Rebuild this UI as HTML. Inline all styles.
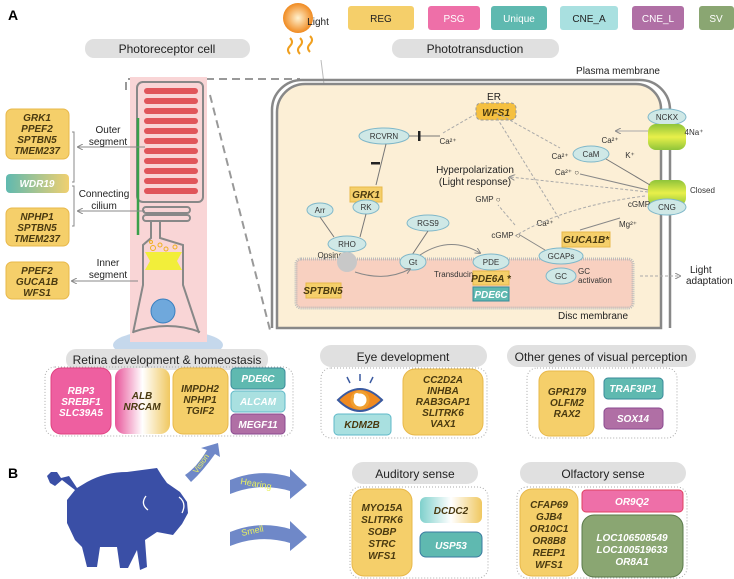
<!DOCTYPE html>
<html><head><meta charset="utf-8"><style>
html,body{margin:0;padding:0;background:#fff}
svg{display:block;font-family:"Liberation Sans",sans-serif}
.g{font-weight:bold;font-style:italic;font-size:10px;fill:#4a3a10;text-anchor:middle}
.w{font-weight:bold;font-style:italic;font-size:10px;fill:#fff;text-anchor:middle}
.s{font-size:8px;fill:#333;text-anchor:middle}
.l{font-size:10px;fill:#222;text-anchor:middle}
.p{font-size:12px;fill:#222;text-anchor:middle}
.e{fill:#cfe8e6;stroke:#7fb7c9;stroke-width:1}
.reg{fill:#f5cf6a;stroke:#e8b84a;stroke-width:1}
</style></head><body>
<svg width="734" height="579" viewBox="0 0 734 579">
<defs>
<linearGradient id="wdr" x1="0" x2="1"><stop offset="0" stop-color="#5fb9b0"/><stop offset="1" stop-color="#f0d070"/></linearGradient>
<linearGradient id="alb" x1="0" x2="1"><stop offset="0" stop-color="#e8559a"/><stop offset=".5" stop-color="#fff"/><stop offset="1" stop-color="#f0c860"/></linearGradient>
<linearGradient id="dcd" x1="0" x2="1"><stop offset="0" stop-color="#7fd0cc"/><stop offset=".5" stop-color="#fff"/><stop offset="1" stop-color="#f0c860"/></linearGradient>
<linearGradient id="ch" x1="0" y1="0" x2="0" y2="1"><stop offset="0" stop-color="#8fc43a"/><stop offset=".5" stop-color="#e8f04a"/><stop offset="1" stop-color="#8fc43a"/></linearGradient>
<radialGradient id="sun"><stop offset="0" stop-color="#fff2d0"/><stop offset="1" stop-color="#f08a20"/></radialGradient>
<marker id="ar" markerWidth="6" markerHeight="6" refX="5" refY="3" orient="auto"><path d="M0,0 L6,3 L0,6" fill="none" stroke="#888" stroke-width="1"/></marker>
</defs>
<text x="8" y="20" font-size="14" font-weight="bold">A</text>
<text x="8" y="478" font-size="14" font-weight="bold">B</text>
<!-- legend -->
<rect x="348" y="6" width="66" height="24" rx="3" fill="#f5cf6a"/><text x="381" y="22" class="l" fill="#333">REG</text>
<rect x="428" y="6" width="52" height="24" rx="3" fill="#ee6fa8"/><text x="454" y="22" class="l" style="fill:#fff">PSG</text>
<rect x="491" y="6" width="56" height="24" rx="3" fill="#5fb9b0"/><text x="519" y="22" class="l" style="fill:#fff">Unique</text>
<rect x="560" y="6" width="58" height="24" rx="3" fill="#a9e0e0"/><text x="589" y="22" class="l">CNE_A</text>
<rect x="632" y="6" width="52" height="24" rx="3" fill="#b06fa5"/><text x="658" y="22" class="l" style="fill:#fff">CNE_L</text>
<rect x="699" y="6" width="35" height="24" rx="3" fill="#8aa672"/><text x="716" y="22" class="l" style="fill:#fff">SV</text>
<!-- sun -->
<circle cx="298" cy="18" r="15" fill="url(#sun)"/>
<text x="318" y="25" class="l">Light</text>
<path d="M290,38 q4,4 0,8 q-4,4 0,8 M300,38 q4,4 0,8 q-4,4 0,8 M310,36 q4,4 0,8 q-4,4 0,8" fill="none" stroke="#f0a020" stroke-width="2"/>
<line x1="321" y1="60" x2="345" y2="253" stroke="#bbb" stroke-width="1" marker-end="url(#ar)"/>
<!-- pills -->
<rect x="85" y="39" width="165" height="19" rx="9" fill="#e0e0e0"/><text x="167" y="53" class="p">Photoreceptor cell</text>
<rect x="392" y="39" width="167" height="19" rx="9" fill="#e0e0e0"/><text x="475" y="53" class="p">Phototransduction</text>
<!-- dashed zoom -->
<path d="M126,90 L126,79 L300,79" fill="none" stroke="#999" stroke-width="2" stroke-dasharray="8,5"/>
<path d="M210,95 L270,330" fill="none" stroke="#999" stroke-width="2" stroke-dasharray="8,5"/>
<!-- photoreceptor -->
<ellipse cx="168" cy="345" rx="55" ry="15" fill="#c5d8ec"/>
<rect x="130" y="77" width="77" height="265" fill="#f9d5d6"/>
<path d="M142,82 h56 a5,5 0 0 1 5,5 v110 a5,5 0 0 1 -5,5 h-55 a6,6 0 0 1 -6,-6 v-108 a6,6 0 0 1 6,-6z" fill="none" stroke="#888" stroke-width="2"/>
<g fill="#e0555a">
<rect x="144" y="88" width="54" height="6" rx="3"/><rect x="144" y="98" width="54" height="6" rx="3"/><rect x="144" y="108" width="54" height="6" rx="3"/><rect x="144" y="118" width="54" height="6" rx="3"/><rect x="144" y="128" width="54" height="6" rx="3"/><rect x="144" y="138" width="54" height="6" rx="3"/><rect x="144" y="148" width="54" height="6" rx="3"/><rect x="144" y="158" width="54" height="6" rx="3"/><rect x="144" y="168" width="54" height="6" rx="3"/><rect x="144" y="178" width="54" height="6" rx="3"/><rect x="144" y="188" width="54" height="6" rx="3"/>
</g>
<rect x="143" y="207" width="47" height="6" rx="3" fill="none" stroke="#888" stroke-width="2"/>
<rect x="143" y="215" width="47" height="6" rx="3" fill="none" stroke="#888" stroke-width="2"/>
<path d="M151,222 V238 L143,245 V285 L133,333 M160,222 V238 L183,245 V285 L199,333" fill="none" stroke="#888" stroke-width="2"/>
<path d="M133,332 q35,-12 67,0" fill="none" stroke="#888" stroke-width="2"/>
<line x1="138" y1="118" x2="138" y2="235" stroke="#3aa04a" stroke-width="2.5"/>
<path d="M145,252 h37 l-5,9 l5,9 h-37 l5,-9z" fill="#f2ee3a"/>
<g fill="none" stroke="#f0b020"><circle cx="153" cy="248" r="2.5"/><circle cx="160" cy="245" r="2"/><circle cx="166" cy="249" r="2"/><circle cx="175" cy="247" r="2"/><circle cx="151" cy="242" r="1.5"/></g>
<circle cx="163" cy="311" r="12" fill="#6fa8dc" stroke="#3a80c0"/>
<!-- left boxes -->
<rect x="6" y="109" width="63" height="50" rx="6" class="reg"/>
<text x="37" y="121" class="g">GRK1</text><text x="37" y="132" class="g">PPEF2</text><text x="37" y="143" class="g">SPTBN5</text><text x="37" y="154" class="g">TMEM237</text>
<rect x="6" y="174" width="63" height="19" rx="4" fill="url(#wdr)"/><text x="37" y="187" class="w">WDR19</text>
<rect x="6" y="208" width="63" height="38" rx="6" class="reg"/>
<text x="37" y="220" class="g">NPHP1</text><text x="37" y="231" class="g">SPTBN5</text><text x="37" y="242" class="g">TMEM237</text>
<rect x="6" y="262" width="63" height="37" rx="6" class="reg"/>
<text x="37" y="274" class="g">PPEF2</text><text x="37" y="285" class="g">GUCA1B</text><text x="37" y="296" class="g">WFS1</text>
<path d="M72,132 h2 v50 h-2 M72,186 h2 v40 h-2" fill="none" stroke="#888"/>
<line x1="145" y1="147" x2="78" y2="147" stroke="#888" marker-end="url(#ar)"/>
<line x1="145" y1="211" x2="78" y2="211" stroke="#888" marker-end="url(#ar)"/>
<line x1="138" y1="281" x2="72" y2="281" stroke="#888" marker-end="url(#ar)"/>
<text x="108" y="133" class="l">Outer</text><text x="108" y="145" class="l">segment</text>
<text x="104" y="197" class="l">Connecting</text><text x="104" y="209" class="l">cilium</text>
<text x="108" y="266" class="l">Inner</text><text x="108" y="278" class="l">segment</text>
<!-- big cell -->
<path d="M272,328 V110 a30,30 0 0 1 30,-30 H640 a30,30 0 0 1 30,30 V328" fill="none" stroke="#888" stroke-width="2.5"/>
<path d="M277,328 V112 a28,28 0 0 1 28,-28 H636 a25,25 0 0 1 25,25 V328Z" fill="#fcefd6" stroke="#888" stroke-width="2.5"/>
<rect x="296" y="259" width="337" height="49" rx="5" fill="#f8d0c0" stroke="#bbb" stroke-width="3" stroke-dasharray="1,1"/>
<text x="618" y="74" class="l">Plasma membrane</text>
<text x="593" y="319" class="l">Disc membrane</text>
<text x="690" y="273" class="l" style="text-anchor:start">Light</text>
<text x="686" y="284" class="l" style="text-anchor:start">adaptation</text>
<line x1="640" y1="276" x2="680" y2="276" stroke="#aaa" stroke-dasharray="3,2" marker-end="url(#ar)"/>
<!-- channels -->
<ellipse cx="667" cy="117" rx="19" ry="8" class="e"/><text x="667" y="120" class="s">NCKX</text>
<rect x="648" y="124" width="38" height="26" rx="8" fill="url(#ch)"/>
<rect x="648" y="180" width="38" height="26" rx="8" fill="url(#ch)"/>
<ellipse cx="667" cy="207" rx="19" ry="8" class="e"/><text x="667" y="210" class="s">CNG</text>
<text x="690" y="193" class="s" style="text-anchor:start">Closed</text>
<text x="694" y="135" class="s">4Na⁺</text>
<line x1="648" y1="131" x2="616" y2="131" stroke="#aaa" marker-end="url(#ar)"/>
<text x="610" y="143" class="s">Ca²⁺</text><text x="630" y="158" class="s">K⁺</text>
<!-- nodes -->
<rect x="476" y="103" width="40" height="17" rx="5" fill="#f5c040" stroke="#999" stroke-dasharray="3,2"/><text x="496" y="116" class="g">WFS1</text>
<text x="494" y="100" class="l">ER</text>
<ellipse cx="384" cy="136" rx="25" ry="8" class="e"/><text x="384" y="139" class="s">RCVRN</text>
<line x1="409" y1="136" x2="440" y2="136" stroke="#777"/><rect x="418" y="131" width="2.5" height="10" fill="#222"/>
<text x="448" y="144" class="s">Ca²⁺</text>
<line x1="443" y1="133" x2="474" y2="115" stroke="#aaa" stroke-dasharray="3,2"/>
<line x1="386" y1="144" x2="376" y2="185" stroke="#777"/><rect x="371" y="162" width="9" height="2.5" fill="#222"/>
<rect x="350" y="187" width="32" height="15" class="reg"/><text x="366" y="198" class="g">GRK1</text>
<ellipse cx="366" cy="207" rx="13" ry="7" class="e"/><text x="366" y="210" class="s">RK</text>
<ellipse cx="320" cy="210" rx="13" ry="7" class="e"/><text x="320" y="213" class="s">Arr</text>
<ellipse cx="347" cy="244" rx="19" ry="8" class="e"/><text x="347" y="247" class="s">RHO</text>
<text x="330" y="258" class="s">Opsins</text>
<circle cx="347" cy="262" r="10" fill="#c8c8c8"/>
<rect x="306" y="283" width="35" height="15" class="reg"/><text x="323" y="294" class="g">SPTBN5</text>
<line x1="320" y1="217" x2="334" y2="237" stroke="#777"/><line x1="366" y1="214" x2="360" y2="237" stroke="#777"/>
<ellipse cx="428" cy="223" rx="21" ry="8" class="e"/><text x="428" y="226" class="s">RGS9</text>
<line x1="428" y1="231" x2="412" y2="255" stroke="#777"/>
<ellipse cx="413" cy="262" rx="13" ry="8" class="e"/><text x="413" y="265" class="s">Gt</text>
<text x="434" y="277" class="s" style="text-anchor:start">Transducin</text>
<ellipse cx="491" cy="262" rx="18" ry="8" class="e"/><text x="491" y="265" class="s">PDE</text>
<path d="M420,255 q30,-20 60,-2" fill="none" stroke="#888" marker-end="url(#ar)"/>
<path d="M355,272 q30,10 55,-3" fill="none" stroke="#888" marker-end="url(#ar)"/>
<rect x="473" y="271" width="36" height="14" class="reg"/><text x="491" y="282" class="g">PDE6A *</text>
<rect x="473" y="287" width="36" height="14" fill="#5fb9b0" stroke="#3a8a9a"/><text x="491" y="298" class="w">PDE6C</text>
<ellipse cx="561" cy="256" rx="22" ry="8" class="e"/><text x="561" y="259" class="s">GCAPs</text>
<ellipse cx="561" cy="276" rx="15" ry="8" class="e"/><text x="561" y="279" class="s">GC</text>
<text x="578" y="274" class="s" style="text-anchor:start">GC</text><text x="578" y="283" class="s" style="text-anchor:start">activation</text>
<rect x="562" y="232" width="48" height="15" class="reg"/><text x="586" y="243" class="g">GUCA1B*</text>
<ellipse cx="591" cy="154" rx="18" ry="8" class="e"/><text x="591" y="157" class="s">CaM</text>
<text x="475" y="173" class="l">Hyperpolarization</text><text x="475" y="185" class="l">(Light response)</text>
<text x="488" y="202" class="s">GMP ○</text><text x="506" y="238" class="s">cGMP ○</text>
<text x="545" y="226" class="s">Ca²⁺</text><text x="628" y="227" class="s">Mg²⁺</text>
<text x="639" y="207" class="s">cGMP</text><text x="560" y="159" class="s">Ca²⁺</text><text x="567" y="175" class="s">Ca²⁺ ○</text>
<line x1="606" y1="159" x2="650" y2="185" stroke="#777"/>
<line x1="648" y1="190" x2="580" y2="174" stroke="#888"/>
<line x1="648" y1="192" x2="510" y2="177" stroke="#aaa" stroke-dasharray="3,2" marker-end="url(#ar)"/>
<path d="M645,196 q-80,10 -130,40" fill="none" stroke="#aaa" stroke-dasharray="3,2"/>
<line x1="497" y1="113" x2="560" y2="148" stroke="#aaa" stroke-dasharray="3,2"/>
<line x1="497" y1="118" x2="560" y2="220" stroke="#aaa" stroke-dasharray="3,2"/>
<line x1="545" y1="250" x2="520" y2="235" stroke="#888"/>
<line x1="515" y1="225" x2="498" y2="205" stroke="#aaa" stroke-dasharray="3,2"/>
<line x1="580" y1="230" x2="620" y2="218" stroke="#888"/>
<!-- lower row A -->
<rect x="66" y="349" width="202" height="21" rx="10" fill="#e0e0e0"/><text x="167" y="364" class="p">Retina development &amp; homeostasis</text>
<rect x="45" y="367" width="248" height="69" rx="10" fill="none" stroke="#aaa" stroke-dasharray="1,2"/>
<rect x="51" y="368" width="60" height="66" rx="10" fill="#ee5fa0" stroke="#e04080"/>
<text x="81" y="394" class="w">RBP3</text><text x="81" y="405" class="w">SREBF1</text><text x="81" y="416" class="w">SLC39A5</text>
<rect x="115" y="368" width="55" height="66" rx="10" fill="url(#alb)"/>
<text x="142" y="399" class="g">ALB</text><text x="142" y="410" class="g">NRCAM</text>
<rect x="173" y="368" width="55" height="66" rx="10" class="reg"/>
<text x="200" y="392" class="g">IMPDH2</text><text x="200" y="403" class="g">NPHP1</text><text x="200" y="414" class="g">TGIF2</text>
<rect x="231" y="368" width="54" height="21" rx="4" fill="#5fb9b0" stroke="#3a8a9a"/><text x="258" y="382" class="w">PDE6C</text>
<rect x="231" y="391" width="54" height="21" rx="4" fill="#a9e0e0" stroke="#5fb9c9"/><text x="258" y="405" class="w">ALCAM</text>
<rect x="231" y="414" width="54" height="20" rx="4" fill="#b06fa5" stroke="#8a4a90"/><text x="258" y="428" class="w">MEGF11</text>
<rect x="320" y="345" width="167" height="22" rx="11" fill="#e0e0e0"/><text x="403" y="361" class="p">Eye development</text>
<rect x="321" y="368" width="166" height="70" rx="10" fill="none" stroke="#aaa" stroke-dasharray="1,2"/>
<path d="M338,400 q22,-22 44,0 q-22,22 -44,0z" fill="#f08a20" stroke="#3a5aa0" stroke-width="2"/>
<circle cx="360" cy="400" r="8" fill="#fff" stroke="#f0a030" stroke-width="3"/><circle cx="357" cy="396" r="3" fill="#fff"/>
<path d="M350,383 l-3,-6 M360,381 v-7 M370,383 l3,-6" stroke="#3a5aa0" stroke-width="1.5"/>
<rect x="334" y="414" width="57" height="21" rx="4" fill="#a9e0e0" stroke="#5fb9c9"/><text x="362" y="428" class="g">KDM2B</text>
<rect x="403" y="369" width="80" height="66" rx="12" class="reg"/>
<text x="443" y="383" class="g">CC2D2A</text><text x="443" y="394" class="g">INHBA</text><text x="443" y="405" class="g">RAB3GAP1</text><text x="443" y="416" class="g">SLITRK6</text><text x="443" y="427" class="g">VAX1</text>
<rect x="507" y="345" width="189" height="22" rx="11" fill="#e0e0e0"/><text x="601" y="361" class="p">Other genes of visual perception</text>
<rect x="527" y="368" width="150" height="70" rx="10" fill="none" stroke="#aaa" stroke-dasharray="1,2"/>
<rect x="539" y="371" width="55" height="65" rx="10" class="reg"/>
<text x="567" y="395" class="g">GPR179</text><text x="567" y="406" class="g">OLFM2</text><text x="567" y="417" class="g">RAX2</text>
<rect x="604" y="378" width="59" height="21" rx="4" fill="#5fb9b0" stroke="#3a8a9a"/><text x="633" y="392" class="w">TRAF3IP1</text>
<rect x="604" y="408" width="59" height="21" rx="4" fill="#b06fa5" stroke="#8a4a90"/><text x="633" y="422" class="w">SOX14</text>
<!-- B pig -->
<path d="M47,476 l4,-4 l6,0 l4,6 l8,-2 l8,12 L87,482 Q105,472 127,472 L157,468 L162,476 L167,483 L180,492 L187,502 L188,513 L182,524 L173,535 L157,532 L145,540 L147,567 L140,570 L137,550 L128,568 L120,568 L117,547 L100,547 L97,567 L87,567 L82,547 L75,540 L67,523 L67,500 L75,490 L62,480 L55,486 L50,483z" fill="#3a4fa6"/>
<path d="M179,497 q8,6 3,16 M146,496 q-6,8 2,14" fill="none" stroke="#fff" stroke-width="1.3"/>
<!-- B arrows -->
<path d="M185,475 q12,-8 22,-25 l-6,-2 l17,-5 l2,14 l-5,-3 q-12,17 -24,28z" fill="#6f88c8"/>
<text x="197" y="474" font-size="8" fill="#e8f060" transform="rotate(-55 197 474)">Vision</text>
<path d="M165,490 q30,-12 60,-3 l0,-8 l17,16 l-17,14 l0,-8 q-30,-9 -60,3z" fill="#6f88c8" transform="translate(65,-10)"/>
<text x="240" y="484" font-size="9" fill="#e8f060" transform="rotate(10 240 484)">Hearing</text>
<path d="M165,490 q30,-12 60,-3 l0,-8 l17,16 l-17,14 l0,-8 q-30,-9 -60,3z" fill="#6f88c8" transform="translate(65,42)"/>
<text x="242" y="536" font-size="9" fill="#e8f060" transform="rotate(-12 242 536)">Smell</text>
<rect x="352" y="462" width="126" height="22" rx="11" fill="#e0e0e0"/><text x="415" y="478" class="p">Auditory sense</text>
<rect x="350" y="487" width="138" height="91" rx="10" fill="none" stroke="#aaa" stroke-dasharray="1,2"/>
<rect x="352" y="489" width="60" height="87" rx="12" class="reg"/>
<text x="382" y="511" class="g">MYO15A</text><text x="382" y="523" class="g">SLITRK6</text><text x="382" y="535" class="g">SOBP</text><text x="382" y="547" class="g">STRC</text><text x="382" y="559" class="g">WFS1</text>
<rect x="420" y="497" width="62" height="26" rx="6" fill="url(#dcd)"/><text x="451" y="514" class="g">DCDC2</text>
<rect x="420" y="532" width="62" height="25" rx="6" fill="#5fb9b0" stroke="#3a7aa0"/><text x="451" y="549" class="w">USP53</text>
<rect x="520" y="462" width="166" height="22" rx="11" fill="#e0e0e0"/><text x="603" y="478" class="p">Olfactory sense</text>
<rect x="517" y="487" width="170" height="91" rx="10" fill="none" stroke="#aaa" stroke-dasharray="1,2"/>
<rect x="520" y="489" width="58" height="87" rx="12" class="reg"/>
<text x="549" y="508" class="g">CFAP69</text><text x="549" y="520" class="g">GJB4</text><text x="549" y="532" class="g">OR10C1</text><text x="549" y="544" class="g">OR8B8</text><text x="549" y="556" class="g">REEP1</text><text x="549" y="568" class="g">WFS1</text>
<rect x="582" y="490" width="101" height="22" rx="4" fill="#ee6fa8" stroke="#e04060"/><text x="632" y="505" class="w">OR9Q2</text>
<rect x="582" y="515" width="101" height="62" rx="12" fill="#8aa672" stroke="#5a7a4a"/>
<text x="632" y="541" class="w">LOC106508549</text><text x="632" y="553" class="w">LOC100519633</text><text x="632" y="565" class="w">OR8A1</text>
</svg>
</body></html>
